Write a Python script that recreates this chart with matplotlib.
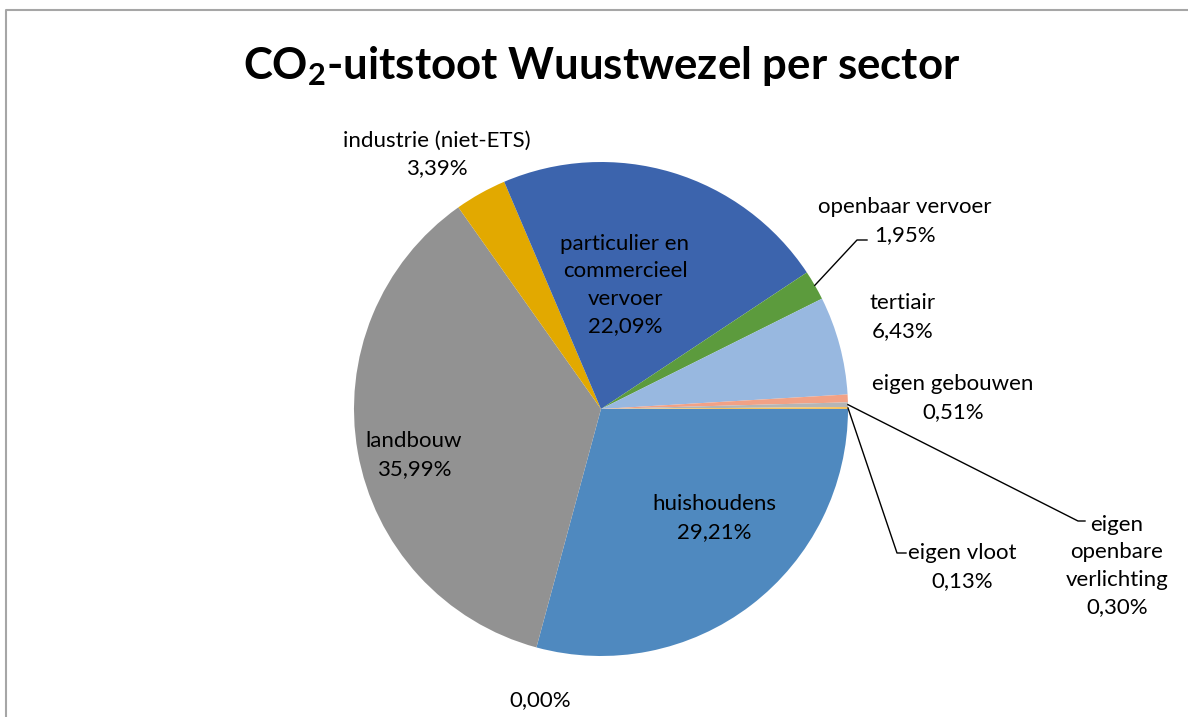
import matplotlib
matplotlib.use("Agg")
import matplotlib.pyplot as plt
import numpy as np

plt.rcParams['font.family'] = ['Lato', 'DejaVu Sans']
plt.rcParams['mathtext.fontset'] = 'custom'
plt.rcParams['mathtext.rm'] = 'Lato'
plt.rcParams['mathtext.bf'] = 'Lato:bold'

# --- data ---
sectors = ['huishoudens', '', 'landbouw', 'industrie (niet-ETS)',
           'particulier en\ncommercieel\nvervoer', 'openbaar vervoer',
           'tertiair', 'eigen gebouwen', 'eigen\nopenbare\nverlichting',
           'eigen vloot']
shares = [29.21, 0.00, 35.99, 3.39, 22.09, 1.95, 6.43, 0.51, 0.30, 0.13]
colors = ['#4F89BF', '#FFFFFF', '#929292', '#E2A900', '#3C64AD', '#5C9B3D',
          '#98B8E0', '#F2A185', '#B5B5B5', '#F7C35E']

# label centres in pixel coordinates (x, y from top)
label_pos = [(714, 518), (540, 700), (414, 455), (437, 154), (625, 285),
             (905, 221), (903, 317), (953, 398), (1117, 566), (962, 567)]
# leader lines: slice index -> (edge fraction along slice, elbow point, end point)
leaders = {5: (0.5, (857, 240), (867, 240)),
           8: (0.5, (1078, 521), (1085, 521)),
           9: (0.5, (897, 553), (906, 553))}

W, H = 1188, 717
cx, cy, r = 601, 409, 247

fig = plt.figure(figsize=(W / 100, H / 100), dpi=100)
ax = fig.add_axes([0, 0, 1, 1])


def P(x, y):
    return x, H - y


wedges, _ = ax.pie(shares, colors=colors, startangle=0, counterclock=False,
                   center=P(cx, cy), radius=r, frame=True,
                   wedgeprops=dict(linewidth=0))
ax.set_xlim(0, W)
ax.set_ylim(0, H)
ax.set_aspect('auto')
ax.axis('off')

for i, (name, val) in enumerate(zip(sectors, shares)):
    txt = ('%.2f%%' % val).replace('.', ',')
    if name:
        txt = name + '\n' + txt
    ax.text(*P(*label_pos[i]), txt, ha='center', va='center', fontsize=16,
            color='#000000', linespacing=1.45)

for i, (frac, elbow, end) in leaders.items():
    w = wedges[i]
    ang = np.deg2rad(w.theta1 + (w.theta2 - w.theta1) * frac)
    sx, sy = P(cx, cy)
    start = (sx + r * np.cos(ang), sy + r * np.sin(ang))
    ex, ey = P(*elbow)
    fx, fy = P(*end)
    ax.plot([start[0], ex, fx], [start[1], ey, fy], color='black', lw=1)

# title
ax.text(*P(602, 66), r'$\mathbf{CO_2}$-uitstoot Wuustwezel per sector',
        ha='center', va='center', fontsize=31.5, fontweight='bold')

# chart area border
ax.plot([6, 6, W], [0, H - 10, H - 10], color='#A6A6A6', lw=1.5,
        clip_on=False)

fig.savefig('out.png', dpi=100)
